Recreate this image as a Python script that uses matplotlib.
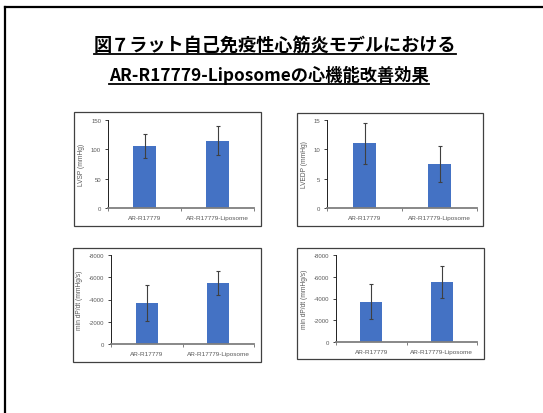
import matplotlib
matplotlib.use("Agg")
import matplotlib.pyplot as plt
from matplotlib.patches import Rectangle
from matplotlib.lines import Line2D

plt.rcParams['axes.unicode_minus'] = False

W, H = 543, 414

groups = ["AR-R17779", "AR-R17779-Liposome"]

lvsp = [105, 115]
lvsp_sd = [20.5, 25]

lvedp = [11.0, 7.5]
lvedp_sd = [3.45, 3.0]

dpdt_a = [-3700, -5500]
dpdt_a_sd = [1600, 1100]

dpdt_b = [-3700, -5500]
dpdt_b_sd = [1600, 1450]

title1 = "図７ラット自己免疫性心筋炎モデルにおける"
title2 = "AR-R17779-Liposomeの心機能改善効果"

BLUE = "#4472C4"
GREY = "#7f7f7f"
JP = ["Noto Sans CJK JP", "DejaVu Sans"]


def fx(px):
    return px / W


def fy(py):
    return 1 - py / H


def frame(x0, y0, x1, y1):
    fig.add_artist(Rectangle((fx(x0), fy(y1)), fx(x1) - fx(x0), fy(y0) - fy(y1),
                             transform=fig.transFigure, fill=False,
                             edgecolor="#404040", linewidth=0.9))


def panel(box, vals, errs, ylim, yticks, ylabel):
    x0, y0, x1, y1 = box
    ax = fig.add_axes([fx(x0), fy(y1), fx(x1) - fx(x0), fy(y0) - fy(y1)])
    ax.bar([0, 1], vals, width=0.31, color=BLUE, yerr=errs,
           error_kw=dict(ecolor="#404040", elinewidth=0.8, capsize=1.6, capthick=0.8))
    ax.set_xlim(-0.5, 1.5)
    ax.set_ylim(*ylim)
    ax.set_yticks(yticks)
    ax.set_xticks([0, 1])
    ax.set_xticklabels(groups, fontsize=4.6, color="#595959", family="Liberation Sans")
    ax.set_xticks([-0.5, 0.5, 1.5], minor=True)
    ax.tick_params(axis="x", which="major", length=0, pad=5)
    ax.tick_params(axis="x", which="minor", length=2.2, width=0.7, color=GREY, direction="out")
    ax.tick_params(axis="y", length=2, width=0.6, color="#202020", labelsize=4.3,
                   labelcolor="#595959", pad=3)
    for lab in ax.get_yticklabels():
        lab.set_family("Liberation Sans")
    for s in ["top", "right"]:
        ax.spines[s].set_visible(False)
    ax.spines["left"].set_linewidth(0.7)
    ax.spines["left"].set_color("#202020")
    ax.spines["bottom"].set_linewidth(1.3)
    ax.spines["bottom"].set_color(GREY)
    ax.set_ylabel(ylabel, fontsize=4.8, color="#595959", family="Liberation Sans", labelpad=4)
    return ax


fig = plt.figure(figsize=(W / 100, H / 100), dpi=100)

# outer slide border (top and left edges only)
fig.add_artist(Line2D([fx(5), fx(W)], [fy(8), fy(8)], transform=fig.transFigure,
                      color="black", linewidth=1.6))
fig.add_artist(Line2D([fx(5), fx(5)], [fy(8), fy(H)], transform=fig.transFigure,
                      color="black", linewidth=1.6))

frame(74, 113, 261, 227)
frame(297, 114, 483, 227)
frame(73, 249, 261, 363)
frame(297, 249, 484, 360)

panel((108, 121, 254, 209), lvsp, lvsp_sd, (0, 150), [0, 50, 100, 150], "LVSP (mmHg)")
panel((327, 121, 477, 209), lvedp, lvedp_sd, (0, 15), [0, 5, 10, 15], "LVEDP (mmHg)")
panel((111, 256, 254, 345), dpdt_a, dpdt_a_sd, (0, -8000),
      [0, -2000, -4000, -6000, -8000], "min dP/dt (mmHg/s)")
panel((336, 256, 477, 343), dpdt_b, dpdt_b_sd, (0, -8000),
      [0, -2000, -4000, -6000, -8000], "min dP/dt (mmHg/s)")

# title with underlines
t1 = fig.text(fx(275), fy(45.5), title1, ha="center", va="center", fontsize=13.1,
              fontweight="bold", family=JP)
t2 = fig.text(fx(269), fy(75.5), title2, ha="center", va="center", fontsize=12.4,
              fontweight="bold", family=JP)
fig.canvas.draw()
r = fig.canvas.get_renderer()
for t, uy in [(t1, 54.5), (t2, 84.5)]:
    bb = t.get_window_extent(r)
    fig.add_artist(Line2D([bb.x0 / W, bb.x1 / W], [fy(uy), fy(uy)],
                          transform=fig.transFigure, color="black", linewidth=1.3))

fig.savefig("out.png", dpi=100)
